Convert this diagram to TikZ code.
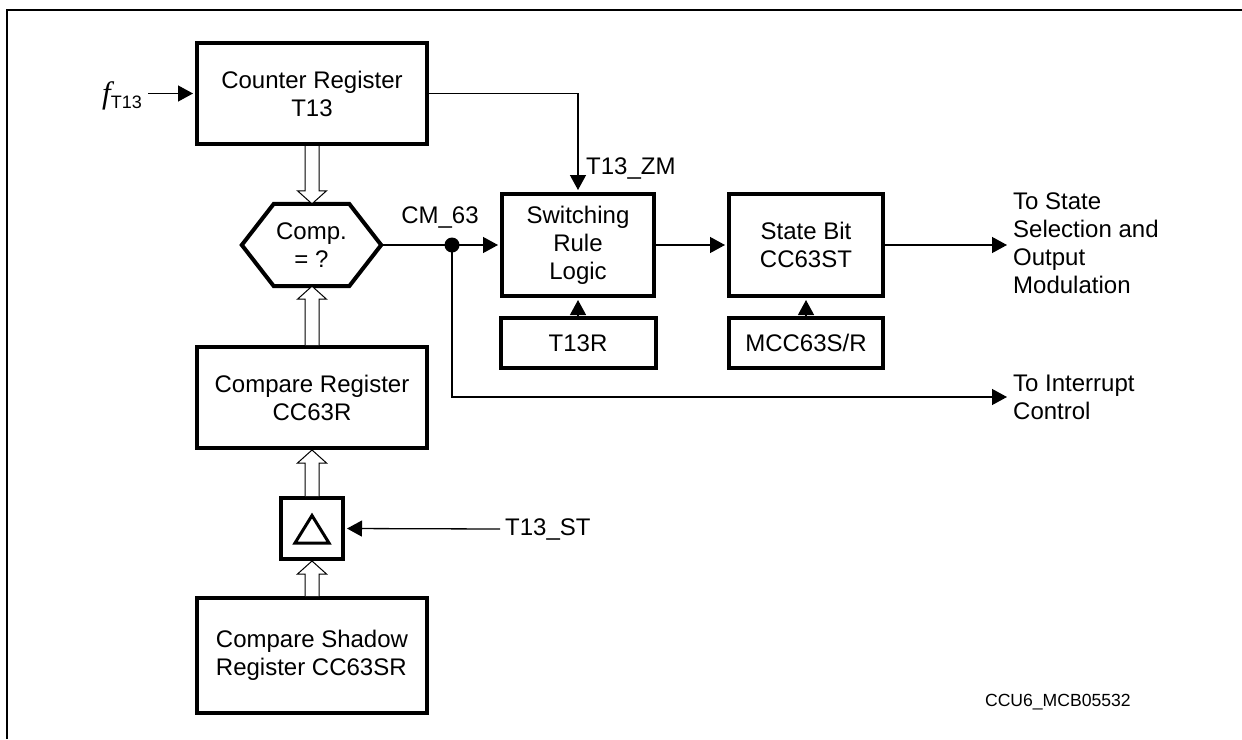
\documentclass[tikz,border=0pt]{standalone}
\usepackage{fontspec}
\setmainfont{Liberation Sans}
\newfontfamily\serifit{Liberation Serif}
\usetikzlibrary{arrows.meta,calc}
\tikzset{
  blk/.style={draw, line width=4pt, fill=white, align=center, inner sep=0pt,
    font=\fontsize{24}{28}\selectfont},
  lbl/.style={inner sep=0pt, font=\fontsize{24}{28}\selectfont},
  wire/.style={line width=1.3pt},
  arr/.style={wire, -{Triangle[length=15pt,width=16pt]}},
  arrb/.style={arr, shorten >=2pt},
  hollow/.style={line width=1pt, fill=white}
}
\newcommand{\hollowup}[2]{%
  \draw[hollow] let \p1=(#1), \p2=(#2) in
    (\x1-7pt,\y1) -- (\x1-7pt,\y2-13pt) -- (\x1-14.5pt,\y2-13pt) -- (\x1,\y2)
    -- (\x1+14.5pt,\y2-13pt) -- (\x1+7pt,\y2-13pt) -- (\x1+7pt,\y1);}
\newcommand{\hollowdown}[2]{%
  \draw[hollow] let \p1=(#1), \p2=(#2) in
    (\x1-7pt,\y1) -- (\x1-7pt,\y2+13pt) -- (\x1-14.5pt,\y2+13pt) -- (\x1,\y2)
    -- (\x1+14.5pt,\y2+13pt) -- (\x1+7pt,\y2+13pt) -- (\x1+7pt,\y1);}
\begin{document}
\begin{tikzpicture}[x=1pt,y=-1pt]
\useasboundingbox (0,0) rectangle (1242,739);
% frame
\draw[line width=1.3pt] (7,739) -- (7,10) -- (1242,10);

% blocks
\node[blk, minimum width=230, minimum height=101] (ctr) at (312,93.5) {Counter Register\\T13};
\node[lbl, minimum width=139, minimum height=82, align=center] (comp) at (311.5,245) {Comp.\\= ?};
\draw[line width=4pt, line join=miter] (comp.west) -- ($(comp.north west)+(32,0)$) -- ($(comp.north east)+(-32,0)$)
  -- (comp.east) -- ($(comp.south east)+(-32,0)$) -- ($(comp.south west)+(32,0)$) -- cycle;
\node[blk, minimum width=230, minimum height=101] (cmpreg) at (312,397.5) {Compare Register\\CC63R};
\node[blk, minimum width=62, minimum height=61] (delta) at (312,528.5) {};
\draw[line width=3pt, line join=miter] ($(delta.center)+(0,-13)$) -- ($(delta.center)+(17,14.5)$) -- ($(delta.center)+(-17,14.5)$) -- cycle;
\node[blk, minimum width=230, minimum height=115, align=left] (shadow) at (312,655.5) {Compare Shadow\\Register CC63SR};
\node[blk, minimum width=152, minimum height=102] (sw) at (578,245) {Switching\\Rule\\Logic};
\node[blk, minimum width=154, minimum height=102] (st) at (806,245) {State Bit\\CC63ST};
\node[blk, minimum width=155, minimum height=50] (t13r) at (578,343) {T13R};
\node[blk, minimum width=154, minimum height=50] (mcc) at (806,343) {MCC63S/R};

% hollow bus arrows
\hollowdown{ctr.south}{comp.north}
\hollowup{cmpreg.north}{comp.south}
\hollowup{delta.north}{cmpreg.south}
\hollowup{shadow.north}{delta.south}

% input f_T13
\coordinate (fin) at (148,93.5);
\node[inner sep=0pt, anchor=east] (flbl) at (142,96)
  {{\serifit\itshape\fontsize{31}{31}\selectfont f}\raisebox{-5pt}{\fontsize{18}{18}\selectfont T13}};
\draw[arrb] (fin) -- (ctr.west);

% T13_ZM
\draw[arrb] (ctr.east) -| (sw.north);
\node[lbl, anchor=west] (zm) at (586,169) {T13\_ZM};

% CM_63
\coordinate (dot) at (452,245);
\draw[arrb] (comp.east) -- (sw.west);
\fill (dot) circle (7.5);
\node[lbl] (cm) at (440,218) {CM\_63};

% interrupt
\coordinate (intc) at (452,397);
\coordinate (intend) at (1007,397);
\draw[arr] (dot) -- (intc) -- (intend);
\node[lbl, anchor=west, align=left] (intlbl) at (1013,397) {To Interrupt\\Control};

% switching -> state bit -> output
\draw[arrb] (sw.east) -- (st.west);
\coordinate (outend) at (1007,245);
\draw[arr] (st.east) -- (outend);
\node[lbl, anchor=west, align=left] (outlbl) at (1013,243) {To State\\Selection and\\Output\\Modulation};

\draw[arrb] (t13r.north) -- (sw.south);
\draw[arrb] (mcc.north) -- (st.south);

% T13_ST
\coordinate (stin) at (500,529);
\draw[arrb] (stin) -- (delta.east);
\node[lbl, anchor=west] (stlbl) at (505,529) {T13\_ST};

% figure id
\node[inner sep=0pt, anchor=east, font=\fontsize{17.6}{20}\selectfont] (fid) at (1131,702) {CCU6\_MCB05532};
\end{tikzpicture}
\end{document}
